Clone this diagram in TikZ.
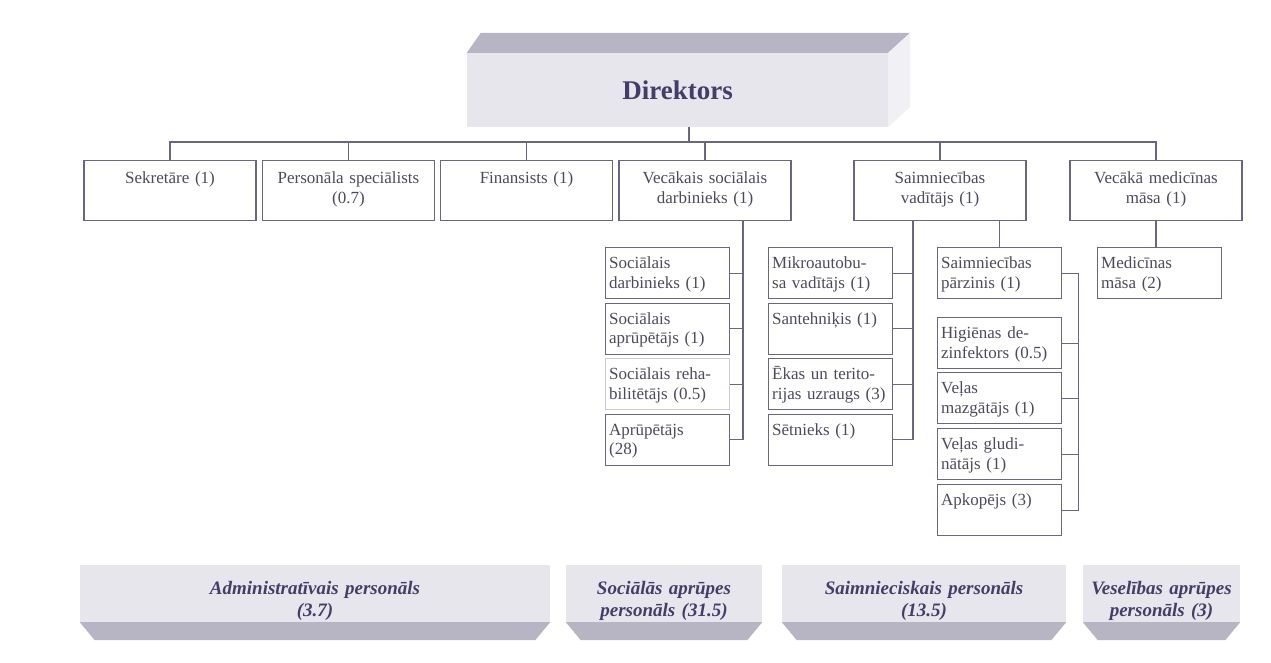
\documentclass[tikz,border=0pt]{standalone}
\usepackage{fontspec}
\setmainfont{Liberation Serif}
\usetikzlibrary{calc}

\definecolor{ln}{HTML}{6A6580}
\definecolor{tx}{HTML}{4E4A5C}
\definecolor{hd}{HTML}{433D68}
\definecolor{face}{HTML}{E7E6EC}
\definecolor{slab}{HTML}{B7B5C3}

\begin{document}
\begin{tikzpicture}[x=1pt,y=-1pt,
  wire/.style={draw=ln,line width=1.3pt},
  posbox/.style={wire,fill=white,inner sep=0pt,text=tx,font=\fontsize{17}{19.5}\selectfont},
  rowbox/.style={posbox,anchor=north,text width=164pt,minimum width=172pt,align=center,text height=23pt,text depth=37pt},
  subbox/.style={posbox,anchor=north west,text width=117pt,minimum width=124pt,align=left,text height=21pt,text depth=30pt},
  banner/.style={fill=face,inner sep=0pt,text=hd,font=\fontsize{19}{22}\bfseries\itshape\selectfont,align=center,text width=#1,minimum width=#1,text height=29pt,text depth=28pt}]
\fill [white] (0,0) rectangle (1271,662);
\useasboundingbox (0,0) rectangle (1271,662);

\node [fill=face,minimum width=421pt,minimum height=74pt,inner sep=0pt,text=hd,font=\fontsize{27}{30}\bfseries\selectfont] (dir) at (677.5,90) {Direktors};
\fill [slab] (dir.north west) -- ++(14,-20) -- ($(dir.north east)+(22,-20)$) -- (dir.north east) -- cycle;
\fill [face!60!white] (dir.north east) -- ++(22,-20) -- ++(0,74) -- (dir.south east) -- cycle;

\node [rowbox] (sek) at (170,160) {Sekretāre (1)};
\node [rowbox] (per) at (348.5,160) {Personāla speciālists\\(0.7)};
\node [rowbox] (fin) at (526.5,160) {Finansists (1)};
\node [rowbox] (vsd) at (705,160) {Vecākais sociālais\\darbinieks (1)};
\node [rowbox] (sv) at (940,160) {Saimniecības\\vadītājs (1)};
\node [rowbox] (vmm) at (1156,160) {Vecākā medicīnas\\māsa (1)};

\coordinate (bus) at (689,142);
\draw [wire] (dir.south -| bus) -- (bus);
\draw [wire] (sek.north) |- (bus) -| (vmm.north);
\foreach \n in {per,fin,vsd,sv} \draw [wire] (\n.north) -- (\n.north |- bus);

\node [subbox] (sd1) at (605,247) {Sociālais\\darbinieks (1)};
\node [subbox] (sd2) at (605,302.5) {Sociālais\\aprūpētājs (1)};
\node [subbox,draw=ln!35] (sd3) at (605,358) {Sociālais reha-\\bilitētājs (0.5)};
\node [subbox] (sd4) at (605,413.5) {Aprūpētājs\\(28)};
\draw [wire] ([xshift=38]vsd.south) |- (sd4.east);
\foreach \n in {sd1,sd2,sd3} \draw [wire] (\n.east) -- ++(14,0);

\node [subbox] (mk1) at (768,247) {Mikroautobu-\\sa vadītājs (1)};
\node [subbox] (mk2) at (768,302.5) {Santehniķis (1)};
\node [subbox] (mk3) at (768,358) {Ēkas un terito-\\rijas uzraugs (3)};
\node [subbox] (mk4) at (768,413.5) {Sētnieks (1)};
\draw [wire] ([xshift=-27]sv.south) |- (mk4.east);
\foreach \n in {mk1,mk2,mk3} \draw [wire] (\n.east) -- ++(21,0);

\node [subbox] (pz) at (937,247) {Saimniecības\\pārzinis (1)};
\node [subbox] (hig) at (937,317) {Higiēnas de-\\zinfektors (0.5)};
\node [subbox] (vm) at (937,372) {Veļas\\mazgātājs (1)};
\node [subbox] (vg) at (937,428) {Veļas gludi-\\nātājs (1)};
\node [subbox] (apk) at (937,484) {Apkopējs (3)};
\draw [wire] (pz.north) -- (pz.north |- sv.south);
\draw [wire] (pz.east) -- ++(16,0) |- (apk.east);
\foreach \n in {hig,vm,vg} \draw [wire] (\n.east) -- ++(16,0);

\node [subbox] (mm) at (1097,247) {Medicīnas\\māsa (2)};
\draw [wire] (vmm.south) -- (vmm.south |- mm.north);

\node [banner=470pt] (adm) at (315,593.5) {Administratīvais personāls\\(3.7)};
\node [banner=196pt] (soc) at (664,593.5) {Sociālās aprūpes\\personāls (31.5)};
\node [banner=284pt] (saim) at (924,593.5) {Saimnieciskais personāls\\(13.5)};
\node [banner=157pt] (ves) at (1161.5,593.5) {Veselības aprūpes\\personāls (3)};
\foreach \n in {adm,soc,saim,ves}
  \fill [slab] (\n.south west) -- (\n.south east) -- ++(-15,18) -- ($(\n.south west)+(15,18)$) -- cycle;
\end{tikzpicture}
\end{document}
